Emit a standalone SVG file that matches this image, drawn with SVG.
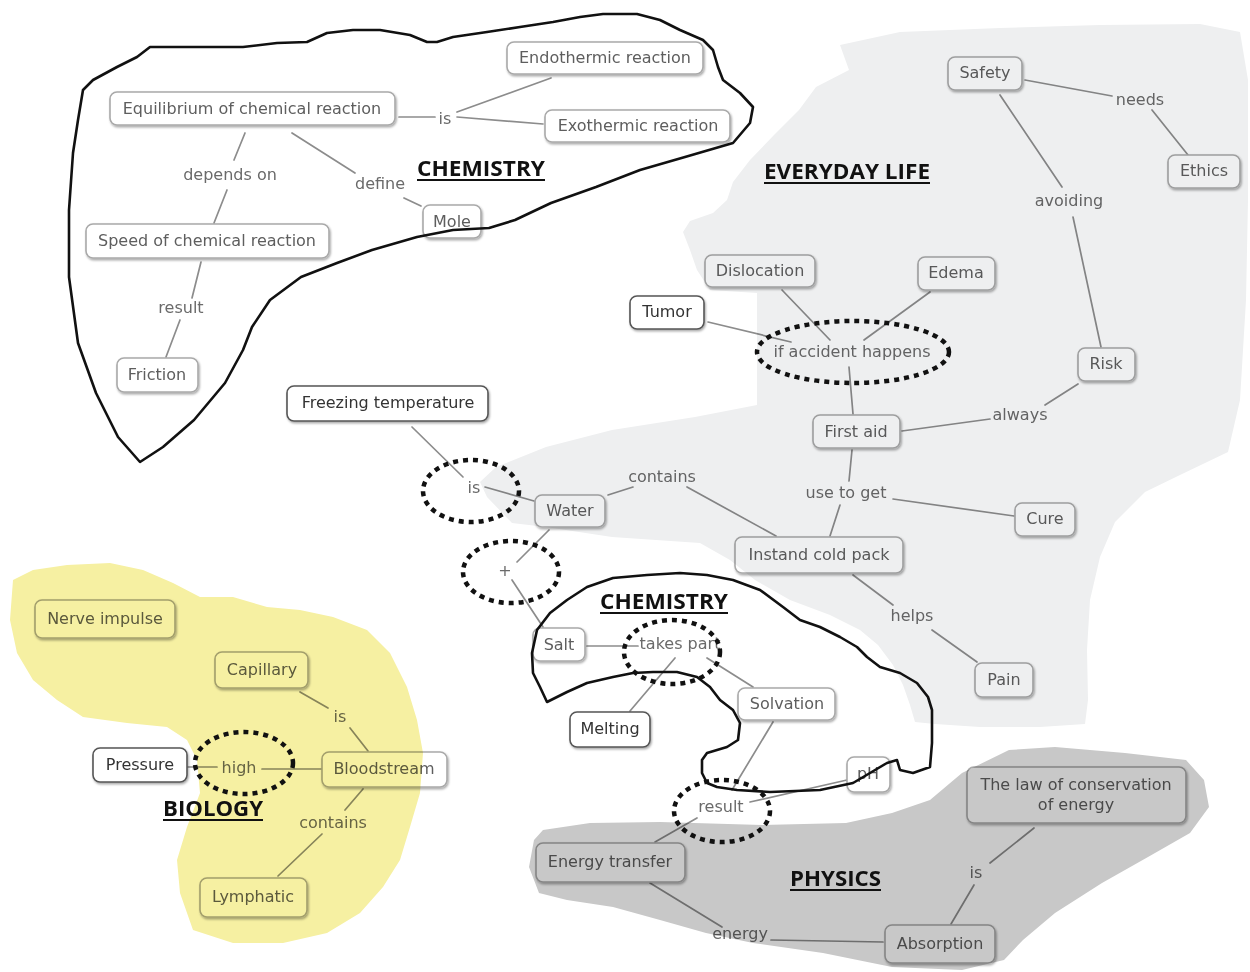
<svg xmlns="http://www.w3.org/2000/svg" width="1250" height="972" viewBox="0 0 1250 972">
  <defs>
    <filter id="shadow" x="-10%" y="-20%" width="120%" height="150%">
      <feDropShadow dx="1" dy="1.6" stdDeviation="0.9" flood-color="#000" flood-opacity="0.35"/>
    </filter>
    <style>
      .node rect { fill: #ffffff; stroke: #a9a9a9; stroke-width: 1.6; filter: url(#shadow); }
      .node text { font-family: "DejaVu Sans", Verdana, sans-serif; font-size: 16px; fill: #5e5e5e; text-anchor: middle; }
      .node.dark rect { stroke: #555555; }
      .node.dark text { fill: #333333; }
      .lbl { font-family: "DejaVu Sans", Verdana, sans-serif; font-size: 16px; fill: #6a6a6a; text-anchor: middle; }
      .conn path { fill: none; stroke: #8c8c8c; stroke-width: 1.7; stroke-linecap: round; }
      .area { mix-blend-mode: multiply; stroke: none; }
      .outline { fill: none; stroke: #111; stroke-width: 2.6; stroke-linejoin: round; stroke-linecap: round; }
      .ring { fill: none; stroke: #111; stroke-width: 4.5; stroke-dasharray: 5 5; }
      .title { font-family: "Open Sans", "Liberation Sans", sans-serif; font-weight: bold; font-size: 22px; fill: #111; }
      .uline { stroke: #111; stroke-width: 1.8; }
    </style>
  </defs>

  <rect width="1250" height="972" fill="#ffffff"/>

  <!-- connectors -->
  <g id="connectors" class="conn">
    <path d="M399,117 L435,117"/>
    <path d="M457,112 L551,78"/>
    <path d="M457,117 L543,124"/>
    <path d="M245,133 L234,160"/>
    <path d="M227,190 L214,223"/>
    <path d="M292,133 L355,173"/>
    <path d="M404,198 L421,206"/>
    <path d="M201,262 L192,298"/>
    <path d="M180,320 L166,357"/>

    <path d="M1025,80 L1112,96"/>
    <path d="M1152,110 L1188,155"/>
    <path d="M1000,95 L1062,187"/>
    <path d="M1073,217 L1101,347"/>
    <path d="M782,290 L830,340"/>
    <path d="M930,292 L864,340"/>
    <path d="M708,322 L791,342"/>
    <path d="M849,367 L853,414"/>
    <path d="M1078,384 L1045,405"/>
    <path d="M990,419 L902,431"/>
    <path d="M852,450 L849,481"/>
    <path d="M840,505 L830,536"/>
    <path d="M893,499 L1014,516"/>
    <path d="M608,495 L633,487"/>
    <path d="M687,487 L776,536"/>
    <path d="M412,427 L463,477"/>
    <path d="M485,487 L534,501"/>
    <path d="M549,530 L517,562"/>
    <path d="M512,580 L543,627"/>
    <path d="M853,575 L893,605"/>
    <path d="M932,630 L977,662"/>

    <path d="M587,646 L638,646"/>
    <path d="M675,658 L630,711"/>
    <path d="M707,658 L753,687"/>
    <path d="M773,722 L732,790"/>
    <path d="M847,780 L750,802"/>
    <path d="M697,818 L655,842"/>

    <path d="M650,883 L722,927"/>
    <path d="M771,940 L883,942"/>
    <path d="M1034,828 L990,863"/>
    <path d="M974,885 L951,924"/>

    <path d="M187,767 L217,767"/>
    <path d="M262,769 L322,769"/>
    <path d="M300,692 L328,708"/>
    <path d="M350,728 L368,751"/>
    <path d="M363,789 L345,810"/>
    <path d="M322,834 L278,876"/>
  </g>

  <!-- linking phrases -->
  <g id="labels">
    <text class="lbl" x="445" y="124">is</text>
    <text class="lbl" x="230" y="180">depends on</text>
    <text class="lbl" x="380" y="189">define</text>
    <text class="lbl" x="181" y="313">result</text>
    <text class="lbl" x="1140" y="105">needs</text>
    <text class="lbl" x="1069" y="206">avoiding</text>
    <text class="lbl" x="852" y="357">if accident happens</text>
    <text class="lbl" x="1020" y="420">always</text>
    <text class="lbl" x="846" y="498">use to get</text>
    <text class="lbl" x="662" y="482">contains</text>
    <text class="lbl" x="912" y="621">helps</text>
    <text class="lbl" x="474" y="493">is</text>
    <text class="lbl" x="505" y="576">+</text>
    <text class="lbl" x="680" y="649">takes part</text>
    <text class="lbl" x="721" y="812">result</text>
    <text class="lbl" x="740" y="939">energy</text>
    <text class="lbl" x="976" y="878">is</text>
    <text class="lbl" x="239" y="773">high</text>
    <text class="lbl" x="340" y="722">is</text>
    <text class="lbl" x="333" y="828">contains</text>
  </g>

  <!-- concepts -->
  <g id="n-endothermic" class="node"><rect x="507" y="42" width="196" height="32" rx="7"/><text x="605" y="63">Endothermic reaction</text></g>
  <g id="n-equilibrium" class="node"><rect x="110" y="92" width="285" height="33" rx="7"/><text x="252" y="114">Equilibrium of chemical reaction</text></g>
  <g id="n-exothermic" class="node"><rect x="545" y="110" width="185" height="32" rx="7"/><text x="638" y="131">Exothermic reaction</text></g>
  <g id="n-mole" class="node"><rect x="423" y="205" width="58" height="33" rx="7"/><text x="452" y="227">Mole</text></g>
  <g id="n-speed" class="node"><rect x="86" y="224" width="243" height="34" rx="7"/><text x="207" y="246">Speed of chemical reaction</text></g>
  <g id="n-friction" class="node"><rect x="117" y="358" width="81" height="34" rx="7"/><text x="157" y="380">Friction</text></g>

  <g id="n-safety" class="node"><rect x="948" y="57" width="74" height="33" rx="7"/><text x="985" y="78">Safety</text></g>
  <g id="n-ethics" class="node"><rect x="1168" y="155" width="72" height="33" rx="7"/><text x="1204" y="176">Ethics</text></g>
  <g id="n-dislocation" class="node"><rect x="705" y="255" width="110" height="32" rx="7"/><text x="760" y="276">Dislocation</text></g>
  <g id="n-edema" class="node"><rect x="918" y="257" width="77" height="33" rx="7"/><text x="956" y="278">Edema</text></g>
  <g id="n-tumor" class="node dark"><rect x="630" y="296" width="74" height="33" rx="7"/><text x="667" y="317">Tumor</text></g>
  <g id="n-risk" class="node"><rect x="1078" y="348" width="57" height="33" rx="7"/><text x="1106" y="369">Risk</text></g>
  <g id="n-firstaid" class="node"><rect x="813" y="415" width="87" height="33" rx="7"/><text x="856" y="437">First aid</text></g>
  <g id="n-cure" class="node"><rect x="1015" y="503" width="60" height="33" rx="7"/><text x="1045" y="524">Cure</text></g>
  <g id="n-coldpack" class="node"><rect x="735" y="537" width="168" height="36" rx="7"/><text x="819" y="560">Instand cold pack</text></g>
  <g id="n-pain" class="node"><rect x="975" y="663" width="58" height="34" rx="7"/><text x="1004" y="685">Pain</text></g>
  <g id="n-water" class="node"><rect x="535" y="495" width="70" height="32" rx="7"/><text x="570" y="516">Water</text></g>
  <g id="n-freezing" class="node dark"><rect x="287" y="386" width="201" height="35" rx="7"/><text x="388" y="408">Freezing temperature</text></g>

  <g id="n-salt" class="node"><rect x="533" y="628" width="52" height="33" rx="7"/><text x="559" y="650">Salt</text></g>
  <g id="n-melting" class="node dark"><rect x="570" y="712" width="80" height="35" rx="7"/><text x="610" y="734">Melting</text></g>
  <g id="n-solvation" class="node"><rect x="738" y="688" width="97" height="32" rx="7"/><text x="787" y="709">Solvation</text></g>
  <g id="n-ph" class="node"><rect x="847" y="757" width="43" height="35" rx="7"/><text x="868" y="779">pH</text></g>

  <g id="n-energytransfer" class="node"><rect x="536" y="843" width="149" height="39" rx="7"/><text x="610" y="867">Energy transfer</text></g>
  <g id="n-conservation" class="node"><rect x="967" y="767" width="219" height="56" rx="7"/><text x="1076" y="790">The law of conservation</text><text x="1076" y="810">of energy</text></g>
  <g id="n-absorption" class="node"><rect x="885" y="925" width="110" height="38" rx="7"/><text x="940" y="949">Absorption</text></g>

  <g id="n-nerve" class="node"><rect x="35" y="600" width="140" height="38" rx="7"/><text x="105" y="624">Nerve impulse</text></g>
  <g id="n-capillary" class="node"><rect x="215" y="652" width="93" height="36" rx="7"/><text x="262" y="675">Capillary</text></g>
  <g id="n-pressure" class="node dark"><rect x="93" y="748" width="94" height="34" rx="7"/><text x="140" y="770">Pressure</text></g>
  <g id="n-bloodstream" class="node"><rect x="322" y="752" width="125" height="35" rx="7"/><text x="384" y="774">Bloodstream</text></g>
  <g id="n-lymphatic" class="node"><rect x="200" y="878" width="107" height="39" rx="7"/><text x="253" y="902">Lymphatic</text></g>

  <!-- subject areas, tinted over the map -->
  <g id="areas">
    <path class="area" fill="#eeeff0" d="M840,45 L900,32 L1000,28 L1100,25 L1200,24 L1240,32 L1248,80 L1248,200 L1246,300 L1240,400 L1228,452 L1180,475 L1145,492 L1115,522 L1100,557 L1090,600 L1087,650 L1088,700 L1085,724 L1040,727 L980,727 L935,724 L915,722 L910,705 L903,685 L893,665 L878,645 L860,630 L830,615 L790,600 L755,580 L730,560 L700,543 L612,537 L546,527 L512,523 L487,497 L480,482 L496,467 L546,447 L612,430 L695,417 L757,405 L757,293 L710,290 L697,270 L690,250 L683,232 L690,221 L713,213 L727,200 L733,182 L750,160 L774,135 L799,110 L816,87 L849,70 Z"/>
    <path class="area" fill="#c8c8c8" d="M534,840 L543,830 L590,823 L660,822 L762,825 L846,823 L892,813 L930,800 L962,773 L1009,750 L1055,747 L1125,753 L1186,760 L1204,780 L1209,807 L1190,833 L1148,857 L1102,883 L1055,913 L1023,940 L1004,960 L962,970 L892,967 L823,953 L753,943 L706,933 L660,920 L613,907 L567,900 L539,893 L529,867 Z"/>
    <path class="area" fill="#f6f0a2" d="M13,580 L33,570 L67,565 L110,563 L143,570 L173,583 L200,597 L233,597 L267,607 L300,610 L333,617 L367,630 L390,653 L407,687 L417,720 L423,753 L420,793 L410,827 L400,860 L383,887 L360,913 L327,933 L283,943 L233,943 L193,930 L180,893 L177,860 L187,827 L200,793 L197,760 L187,740 L167,727 L127,723 L83,717 L57,700 L33,680 L17,653 L10,620 Z"/>
  </g>

  <!-- chemistry boundaries -->
  <g id="chemistry-outlines">
    <path class="outline" d="M140,462 L163,447 L194,420 L225,383 L243,350 L252,327 L270,300 L301,277 L337,263 L372,250 L417,237 L453,230 L489,228 L515,220 L551,203 L596,187 L640,170 L685,157 L733,143 L750,123 L753,107 L740,93 L723,80 L718,67 L713,50 L703,40 L680,30 L660,20 L637,14 L603,14 L580,17 L553,22 L520,27 L487,32 L453,37 L437,42 L427,42 L410,35 L380,30 L353,30 L327,33 L307,42 L277,43 L243,47 L193,47 L150,47 L137,57 L117,67 L93,80 L83,90 L78,120 L73,153 L69,210 L69,277 L78,343 L96,393 L118,437 Z"/>
    <path class="outline" d="M547,702 L540,687 L533,673 L532,653 L537,630 L550,613 L567,600 L587,587 L613,578 L647,575 L680,573 L707,575 L733,580 L760,590 L783,607 L800,620 L820,627 L840,637 L857,647 L867,657 L880,667 L900,673 L917,683 L928,697 L932,710 L932,743 L930,767 L913,773 L900,770 L897,760 L887,763 L870,773 L853,783 L820,790 L770,792 L737,790 L717,787 L707,783 L702,773 L702,760 L707,753 L727,747 L738,740 L740,723 L733,710 L720,700 L710,687 L697,677 L677,672 L653,672 L633,673 L613,677 L587,683 L567,692 Z"/>
  </g>

  <!-- highlighted phrases -->
  <g id="rings">
    <ellipse class="ring" cx="853" cy="352" rx="96" ry="31"/>
    <ellipse class="ring" cx="471" cy="491" rx="48" ry="31"/>
    <ellipse class="ring" cx="511" cy="572" rx="48" ry="31"/>
    <ellipse class="ring" cx="672" cy="652" rx="48" ry="32"/>
    <ellipse class="ring" cx="722" cy="811" rx="48" ry="31"/>
    <ellipse class="ring" cx="244" cy="763" rx="49" ry="31"/>
  </g>

  <!-- subject titles -->
  <g id="titles">
    <text class="title" x="417" y="176" textLength="128" lengthAdjust="spacingAndGlyphs">CHEMISTRY</text>
    <line class="uline" x1="417" y1="180" x2="545" y2="180"/>
    <text class="title" x="764" y="179" textLength="166" lengthAdjust="spacingAndGlyphs">EVERYDAY LIFE</text>
    <line class="uline" x1="764" y1="183" x2="930" y2="183"/>
    <text class="title" x="600" y="609" textLength="128" lengthAdjust="spacingAndGlyphs">CHEMISTRY</text>
    <line class="uline" x1="600" y1="613" x2="728" y2="613"/>
    <text class="title" x="790" y="886" textLength="91" lengthAdjust="spacingAndGlyphs">PHYSICS</text>
    <line class="uline" x1="790" y1="890" x2="881" y2="890"/>
    <text class="title" x="163" y="816" textLength="100" lengthAdjust="spacingAndGlyphs">BIOLOGY</text>
    <line class="uline" x1="163" y1="820" x2="263" y2="820"/>
  </g>
</svg>
